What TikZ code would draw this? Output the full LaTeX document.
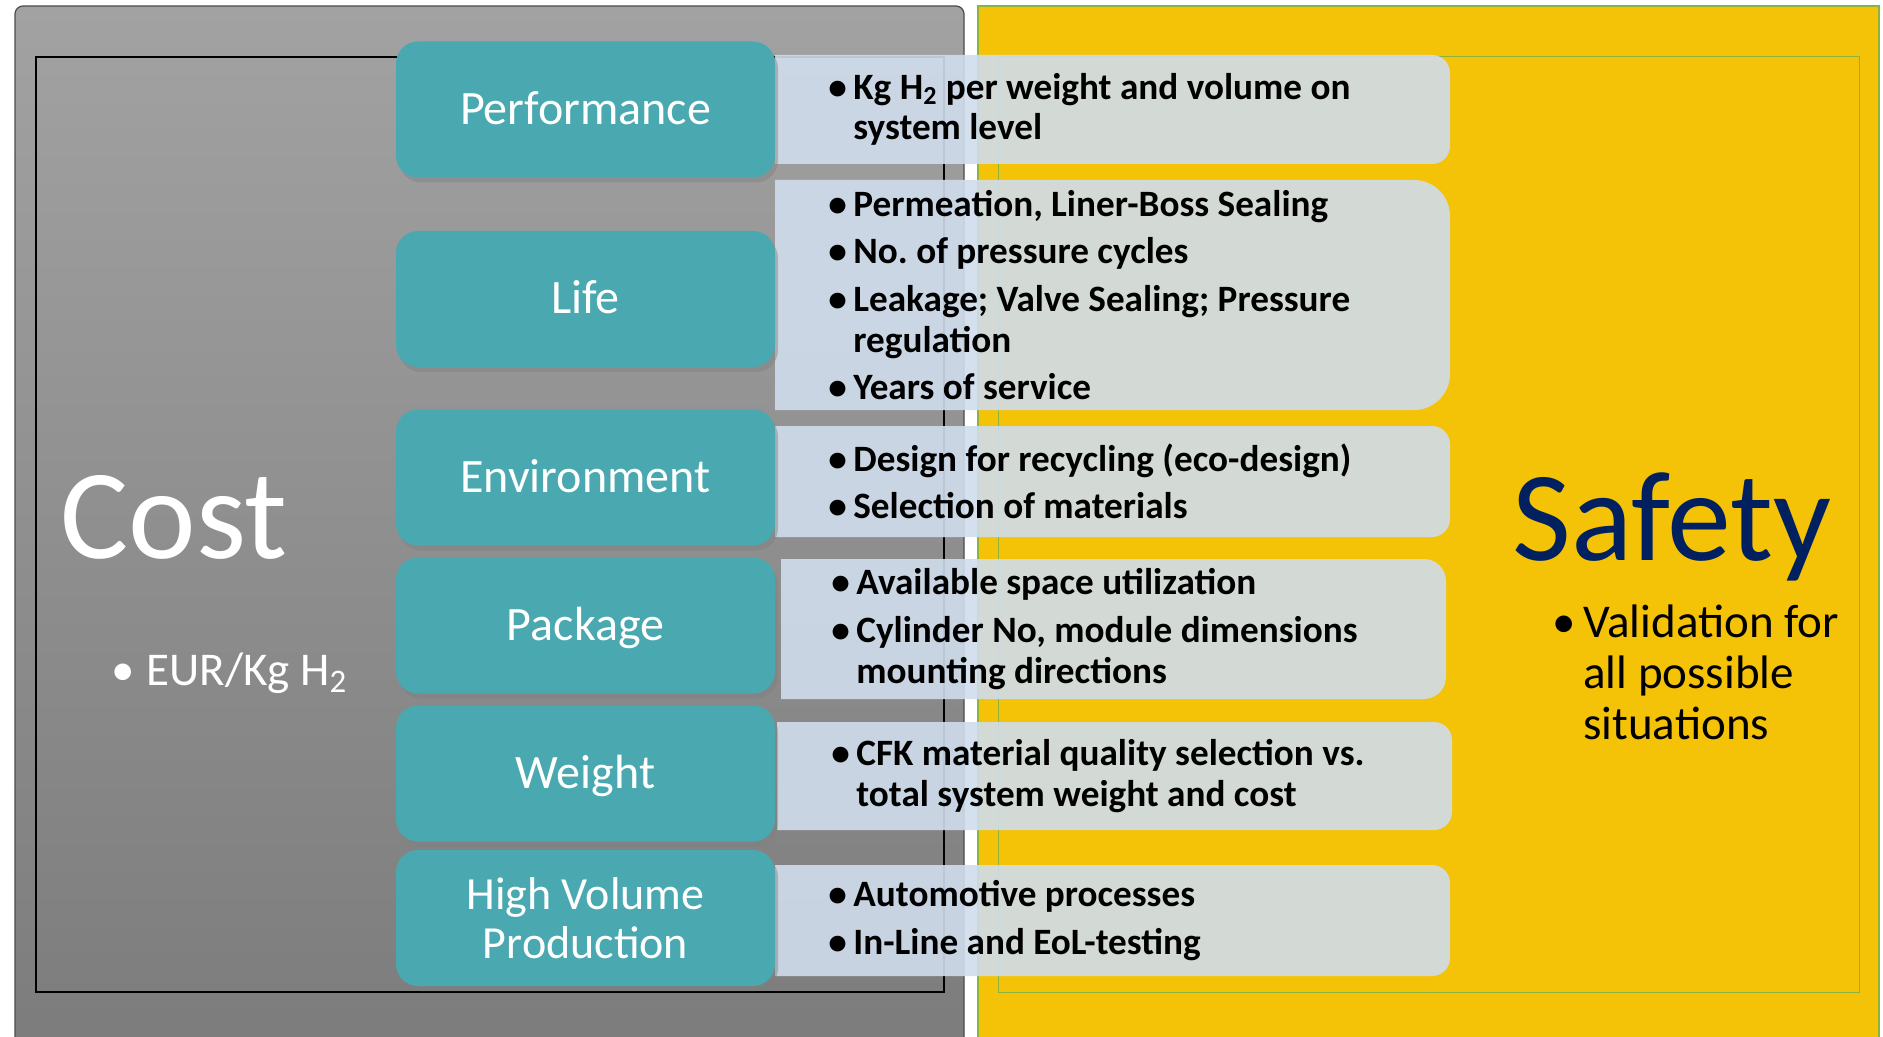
\documentclass[tikz,border=0pt]{standalone}
\usepackage{fontspec}
\setmainfont{Carlito}
\frenchspacing
\usetikzlibrary{shadows}
\definecolor{tealbox}{RGB}{74,169,176}
\definecolor{infofill}{RGB}{208,221,236}
\definecolor{safetyblue}{RGB}{0,32,96}
\definecolor{costtop}{RGB}{162,162,162}
\definecolor{costbot}{RGB}{124,124,124}
\definecolor{safetyyellow}{RGB}{244,194,6}
\definecolor{framegreen}{RGB}{140,180,60}
\tikzset{
  costpanel/.style={draw=black!70, line width=0.6pt, rounded corners=4pt,
    top color=costtop, bottom color=costbot},
  safetypanel/.style={draw=framegreen, line width=0.6pt, fill=safetyyellow},
  topic/.style={fill=tealbox, rounded corners=11pt, minimum width=189.5pt,
    minimum height=68pt, text=white, align=center,
    drop shadow={opacity=0.45, shadow xshift=1.5pt, shadow yshift=-2.5pt}},
  topicline/.style={font=\fontsize{24}{26}\selectfont, text height=0.7em, text depth=0.2em},
  infotext/.style={anchor=west, inner sep=0pt, align=left,
    font=\fontsize{18.6}{20.3}\selectfont\bfseries},
  bigword/.style={anchor=base west, inner sep=0pt, font=\fontsize{64}{64}\selectfont},
  sideitem/.style={inner sep=0pt, align=left, font=\fontsize{23.5}{25.5}\selectfont}
}
\newcommand{\bul}{\makebox[12.5pt][l]{•}}
\newcommand{\hng}{\hspace*{12.5pt}}
% light panel with square left edge and rounded right corners
\newcommand{\infopanel}[5]{%
  \begin{scope}
    \clip (#1,0) rectangle (1883,1037);
    \fill[infofill, fill opacity=0.9, rounded corners=#5] (#1-60,#2) rectangle (#3,#4);
  \end{scope}}

\begin{document}
\begin{tikzpicture}[x=0.5pt,y=-0.5pt]
  \useasboundingbox (0,0) rectangle (1883,1037);
  \fill[white] (0,0) rectangle (1883,1037);

  % the two sides
  \path[costpanel] (15,6) rectangle (964,1050);
  \path[safetypanel] (978,6) rectangle (1879,1050);
  \draw[black, line width=0.8pt] (36,57) rectangle (944,992);
  \draw[framegreen, line width=0.5pt] (998,57) rectangle (1859,992);

  % light panels behind the bullets
  \infopanel{775}{55}{1450}{164}{9pt}
  \infopanel{775}{180}{1450}{410}{18pt}
  \infopanel{775}{426}{1450}{537}{9pt}
  \infopanel{781}{559}{1446}{699}{11pt}
  \infopanel{777}{722}{1452}{830}{9pt}
  \infopanel{775}{865}{1450}{976}{9pt}

  % topics
  \node[topic, topicline] (perf) at (585.5,109.5) {\raisebox{-5pt}{Performance}};
  \node[topic, topicline] (life) at (585.5,299) {\raisebox{-5pt}{Life}};
  \node[topic, topicline] (env) at (585.5,477.5) {\raisebox{-5pt}{Environment}};
  \node[topic, topicline] (pack) at (585.5,625.5) {\raisebox{-5pt}{Package}};
  \node[topic, topicline] (weight) at (585.5,773.5) {\raisebox{-5pt}{Weight}};
  \node[topic, font=\fontsize{23}{24.5}\selectfont] (hvp) at (585.5,918) {High Volume\\Production};

  % bullets
  \node[infotext] (perftext) at (828,109.5)
    {\bul Kg H\textsubscript{2} per weight and volume on\\ \hng system level};
  \node[infotext] (lifetext) at (828,295)
    {\bul Permeation, Liner-Boss Sealing\\[3.5pt] \bul No. of pressure cycles\\[3.5pt]
     \bul Leakage; Valve Sealing; Pressure\\ \hng regulation\\[3.5pt] \bul Years of service};
  \node[infotext] (envtext) at (828,481.5)
    {\bul Design for recycling (eco-design)\\[3.5pt] \bul Selection of materials};
  \node[infotext] (packtext) at (831,629)
    {\bul Available space utilization\\[3.5pt] \bul Cylinder No, module dimensions\\ \hng mounting directions};
  \node[infotext] (weighttext) at (831,776)
    {\bul CFK material quality selection vs.\\ \hng total system weight and cost};
  \node[infotext] (hvptext) at (828,920.5)
    {\bul Automotive processes\\[3.5pt] \bul In-Line and EoL-testing};

  % cost and safety
  \node[bigword, text=white] (cost) at (60,558) {Cost};
  \node[sideitem, anchor=base west, text=white] (costitem) at (111,685)
    {\makebox[17.5pt][l]{•}EUR/Kg H\textsubscript{2}};
  \node[bigword, text=safetyblue] (safety) at (1512,560) {Safety};
  \node[sideitem, anchor=west] (safetyitem) at (1552,672)
    {\makebox[15.5pt][l]{•}Validation for\\ \hspace*{15.5pt}all possible\\ \hspace*{15.5pt}situations};
\end{tikzpicture}
\end{document}
